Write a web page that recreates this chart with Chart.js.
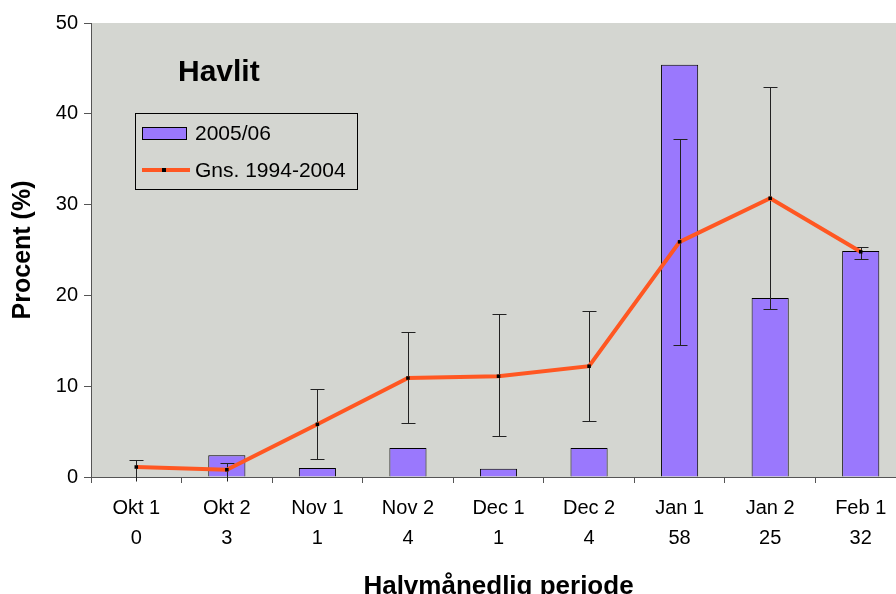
<!DOCTYPE html>
<html lang="da">
<head>
    <meta charset="UTF-8">
    <title>Havlit</title>
    <script src="https://cdn.jsdelivr.net/npm/chart.js"></script>
    <style>
        html, body {
            margin: 0;
            padding: 0;
            background: #ffffff;
            overflow: hidden;
        }
        #wrap {
            width: 896px;
            height: 594px;
            overflow: hidden;
        }
        #box {
            width: 910px;
            height: 602px;
        }
    </style>
</head>
<body>
    <div id="wrap">
        <div id="box"><canvas id="havlitChart"></canvas></div>
    </div>

    <script>
        // Data
        const periods = ['Okt 1', 'Okt 2', 'Nov 1', 'Nov 2', 'Dec 1', 'Dec 2', 'Jan 1', 'Jan 2', 'Feb 1'];
        const counts = ['0', '3', '1', '4', '1', '4', '58', '25', '32'];
        const season0506 = [0, 2.4, 1.0, 3.2, 0.9, 3.2, 45.4, 19.7, 24.9];
        const avg9404 = [1.1, 0.8, 5.8, 10.9, 11.1, 12.2, 25.9, 30.7, 24.8];
        const errLow = [0, 0, 2.0, 6.0, 4.5, 6.2, 14.5, 18.5, 24.0];
        const errHigh = [1.9, 1.5, 9.7, 16.0, 17.9, 18.3, 37.2, 42.9, 25.3];
        const yTicks = [0, 10, 20, 30, 40, 50];

        const barColor = '#9a78fd';
        const lineColor = '#ff5722';
        const plotBg = '#d4d6d1';
        const font = 'Liberation Sans, Arial, sans-serif';

        // grey plot background
        const plotBackground = {
            id: 'plotBackground',
            beforeDraw(chart) {
                const a = chart.chartArea;
                const ctx = chart.ctx;
                ctx.save();
                ctx.fillStyle = plotBg;
                ctx.fillRect(a.left, a.top, a.right - a.left, a.bottom - a.top);
                ctx.restore();
            }
        };

        // error bars on the average line, drawn after the bars
        const errorBars = {
            id: 'errorBars',
            afterDatasetDraw(chart, args) {
                if (args.index !== 1) return;
                const ctx = chart.ctx;
                const x = chart.scales.x;
                const y = chart.scales.y;
                ctx.save();
                ctx.strokeStyle = '#222';
                ctx.lineWidth = 1;
                for (let i = 0; i < periods.length; i++) {
                    const px = Math.round(x.getPixelForValue(i)) + 0.5;
                    const top = Math.round(y.getPixelForValue(errHigh[i])) + 0.5;
                    const bot = Math.round(y.getPixelForValue(errLow[i])) + 0.5;
                    ctx.beginPath();
                    ctx.moveTo(px, top);
                    ctx.lineTo(px, bot + (errLow[i] === 0 ? 4 : 0));
                    ctx.moveTo(px - 7, top);
                    ctx.lineTo(px + 7, top);
                    if (errLow[i] > 0) {
                        ctx.moveTo(px - 7, bot);
                        ctx.lineTo(px + 7, bot);
                    }
                    ctx.stroke();
                }
                ctx.restore();
            }
        };

        // chart title and boxed legend inside the plot
        const titleLegend = {
            id: 'titleLegend',
            afterDraw(chart) {
                const ctx = chart.ctx;
                ctx.save();
                ctx.fillStyle = '#000';
                ctx.textBaseline = 'middle';
                ctx.font = 'bold 30px ' + font;
                ctx.fillText('Havlit', 178, 73);

                ctx.strokeStyle = '#000';
                ctx.lineWidth = 1;
                ctx.fillStyle = plotBg;
                ctx.fillRect(135.5, 113.5, 222, 76);
                ctx.strokeRect(135.5, 113.5, 222, 76);

                ctx.fillStyle = barColor;
                ctx.fillRect(142.5, 127.5, 44, 12);
                ctx.strokeRect(142.5, 127.5, 44, 12);

                ctx.strokeStyle = lineColor;
                ctx.lineWidth = 4;
                ctx.beginPath();
                ctx.moveTo(142, 170);
                ctx.lineTo(190, 170);
                ctx.stroke();
                ctx.fillStyle = '#000';
                ctx.fillRect(162, 168, 4, 4);

                ctx.font = '21px ' + font;
                ctx.fillText('2005/06', 195, 134);
                ctx.fillText('Gns. 1994-2004', 195, 171);
                ctx.restore();
            }
        };

        const ctx = document.getElementById('havlitChart').getContext('2d');
        const chart = new Chart(ctx, {
            data: {
                labels: periods.map((p, i) => [p, counts[i]]),
                datasets: [
                    {
                        type: 'line',
                        label: 'Gns. 1994-2004',
                        data: avg9404,
                        borderColor: lineColor,
                        borderWidth: 4,
                        pointStyle: 'rect',
                        pointRadius: 2.5,
                        pointBackgroundColor: '#000',
                        pointBorderColor: '#000',
                        pointBorderWidth: 0,
                        tension: 0,
                        order: 0
                    },
                    {
                        type: 'bar',
                        label: '2005/06',
                        data: season0506,
                        backgroundColor: barColor,
                        borderColor: '#000',
                        borderWidth: 1,
                        categoryPercentage: 1,
                        barPercentage: 0.41,
                        order: 1
                    }
                ]
            },
            options: {
                responsive: true,
                maintainAspectRatio: false,
                animation: false,
                layout: { padding: { top: 23, right: 4, left: 0, bottom: 0 } },
                plugins: {
                    legend: { display: false },
                    tooltip: { enabled: false }
                },
                scales: {
                    x: {
                        offset: true,
                        border: { color: '#555', width: 1 },
                        grid: {
                            offset: true,
                            drawOnChartArea: false,
                            drawTicks: true,
                            tickLength: 6,
                            color: '#555'
                        },
                        ticks: {
                            color: '#000',
                            font: { family: font, size: 20, lineHeight: 1.52 },
                            padding: 10,
                            maxRotation: 0,
                            autoSkip: false
                        },
                        title: {
                            display: true,
                            text: 'Halvmånedlig periode',
                            color: '#000',
                            font: { family: font, size: 26, weight: 'bold' },
                            padding: { top: 16, bottom: 0 }
                        },
                        afterFit(scale) { scale.height = 125; }
                    },
                    y: {
                        min: 0,
                        max: 50,
                        afterBuildTicks(scale) {
                            scale.ticks = yTicks.map(v => ({ value: v }));
                        },
                        border: { color: '#555', width: 1 },
                        grid: {
                            drawOnChartArea: false,
                            drawTicks: true,
                            tickLength: 7,
                            color: '#555'
                        },
                        ticks: {
                            color: '#000',
                            font: { family: font, size: 20 },
                            padding: 6
                        },
                        title: {
                            display: true,
                            text: 'Procent (%)',
                            color: '#000',
                            font: { family: font, size: 25, weight: 'bold' },
                            padding: { top: 8, bottom: 10 }
                        },
                        afterFit(scale) { scale.width = 91; }
                    }
                }
            },
            plugins: [plotBackground, errorBars, titleLegend]
        });
    </script>
</body>
</html>
